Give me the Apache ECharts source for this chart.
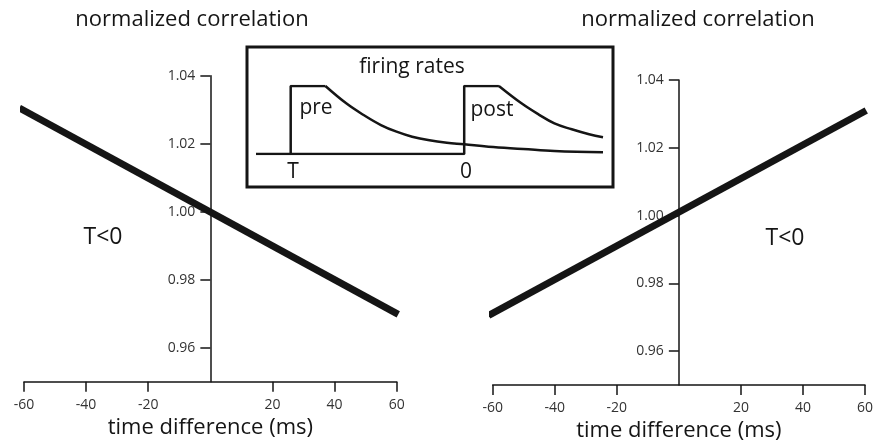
<!DOCTYPE html>
<html>
<head>
<meta charset="utf-8">
<script src="https://cdn.jsdelivr.net/npm/echarts@6/dist/echarts.min.js"></script>
<style>
  html, body { margin: 0; padding: 0; background: #fff; }
  #chart { width: 875px; height: 443px; }
</style>
</head>
<body>
<div id="chart"></div>
<script>
// main panels
const xTicks = [-60, -40, -20, 20, 40, 60];
const yTicks = [0.96, 0.98, 1.00, 1.02, 1.04];
const leftLine = [[-61.5, 1.0305], [60.5, 0.9698]];
const rightLine = [[-61.3, 0.9705], [60.4, 1.031]];

// inset "firing rates" (T at 10, 0 at 60)
const preStep = [[0, 0], [10, 0], [10, 1], [20, 1]];
const preDecay = [[20, 1], [26, 0.745], [31, 0.574], [36, 0.426], [40.5, 0.328], [45, 0.254],
  [50, 0.201], [55, 0.166], [60, 0.143], [67, 0.107], [77, 0.074], [86, 0.044], [100, 0.025]];
const postStep = [[10, 0], [60, 0], [60, 1], [70, 1]];
const postDecay = [[70, 1], [76.5, 0.745], [81.5, 0.58], [86, 0.45], [91, 0.363], [96, 0.29], [100, 0.246]];

const FONT = 'Open Sans';
const INK = '#151515';

// plot areas: x -60..60, y 0.95..1.04
const panels = [
  { left: 24, width: 372.7, top: 75.7, height: 306 },
  { left: 492.7, width: 372.3, top: 80, height: 305 }
];

function xAxisFor(gi) {
  return {
    type: 'value', gridIndex: gi, min: -60, max: 60,
    name: 'time difference (ms)', nameLocation: 'middle', nameGap: 34,
    nameTextStyle: { fontFamily: FONT, fontSize: 22, color: INK },
    axisLine: { onZero: false, lineStyle: { color: INK, width: 1.5 } },
    axisTick: { customValues: xTicks, length: 10, lineStyle: { color: INK, width: 1.5 } },
    axisLabel: { customValues: xTicks, margin: 16, fontFamily: FONT, fontSize: 14, color: '#333' },
    splitLine: { show: false }
  };
}

function yAxisFor(gi) {
  // y axis sits at x = 0, in the middle of the plot
  return {
    type: 'value', gridIndex: gi, min: 0.95, max: 1.04,
    position: 'left', offset: -panels[gi].width / 2,
    axisLine: { show: true, onZero: false, lineStyle: { color: INK, width: 1.5 } },
    axisTick: { show: true, customValues: yTicks, length: 10, lineStyle: { color: INK, width: 1.5 } },
    axisLabel: { customValues: yTicks, margin: 15, fontFamily: FONT, fontSize: 14, color: '#333',
      formatter: v => v.toFixed(2) },
    splitLine: { show: false }
  };
}

function insetLine(data, smooth) {
  return {
    type: 'line', xAxisIndex: 2, yAxisIndex: 2, data: data, smooth: smooth,
    symbol: 'none', silent: true, z: 5,
    lineStyle: { color: INK, width: 2.5 }
  };
}

function txt(x, y, text, size, align) {
  return {
    type: 'text', x: x, y: y, z: 10,
    style: { text: text, fontFamily: FONT, fontSize: size, fill: INK,
      align: align || 'center', verticalAlign: 'middle' }
  };
}

const chart = echarts.init(document.getElementById('chart'));
chart.setOption({
  animation: false,
  backgroundColor: '#fff',
  grid: [
    Object.assign({ outerBoundsMode: 'none', containLabel: false }, panels[0]),
    Object.assign({ outerBoundsMode: 'none', containLabel: false }, panels[1]),
    { left: 256, width: 347, top: 86, height: 68, outerBoundsMode: 'none', containLabel: false }
  ],
  xAxis: [xAxisFor(0), xAxisFor(1),
    { type: 'value', gridIndex: 2, min: 0, max: 100, show: false }],
  yAxis: [yAxisFor(0), yAxisFor(1),
    { type: 'value', gridIndex: 2, min: 0, max: 1, show: false }],
  graphic: [
    { type: 'rect', z: 1, shape: { x: 247, y: 47, width: 366, height: 140 },
      style: { fill: '#fff', stroke: INK, lineWidth: 3 } },
    txt(412, 67, 'firing rates', 21),
    txt(316, 108, 'pre', 21),
    txt(492, 110, 'post', 21),
    txt(293, 172, 'T', 21),
    txt(466, 172, '0', 21),
    txt(192, 20, 'normalized correlation', 22),
    txt(698, 20, 'normalized correlation', 22),
    txt(103, 237, 'T<0', 23),
    txt(785, 238, 'T<0', 23)
  ],
  series: [
    { type: 'line', xAxisIndex: 0, yAxisIndex: 0, data: leftLine, symbol: 'none',
      lineStyle: { color: INK, width: 7 } },
    { type: 'line', xAxisIndex: 1, yAxisIndex: 1, data: rightLine, symbol: 'none',
      lineStyle: { color: INK, width: 7 } },
    insetLine(preStep, false),
    insetLine(preDecay, 0.4),
    insetLine(postStep, false),
    insetLine(postDecay, 0.4)
  ]
});
</script>
</body>
</html>
